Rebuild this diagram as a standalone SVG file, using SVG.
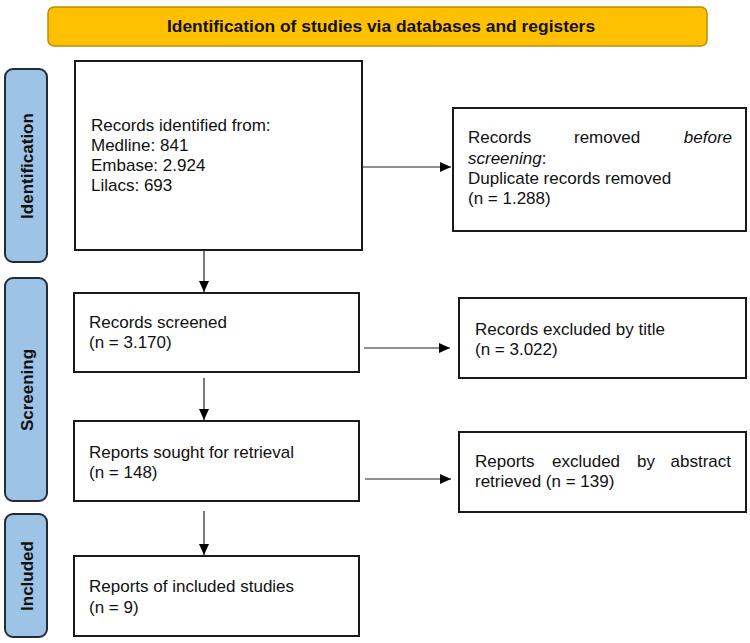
<svg xmlns="http://www.w3.org/2000/svg" width="750" height="643" viewBox="0 0 750 643">
<defs>
<marker id="ah" viewBox="0 0 11 10" refX="11" refY="5" markerWidth="11" markerHeight="10" markerUnits="userSpaceOnUse" orient="auto">
<path d="M0,0 L11,5 L0,10 Z" fill="#000"/>
</marker>
<style>
.box{fill:#fff;stroke:#1a1a1a;stroke-width:2}
.phase{fill:#9dc3e6;stroke:#222b36;stroke-width:2}
.t{font-family:"Liberation Sans",Arial,sans-serif;font-size:17px;fill:#111}
.pt{font-family:"Liberation Sans",Arial,sans-serif;font-size:17px;font-weight:bold;fill:#111;text-anchor:middle}
.conn line{stroke:#222;stroke-width:1.2;marker-end:url(#ah)}
</style>
</defs>
<rect width="750" height="643" fill="#fff"/>

<g id="title">
<rect x="48" y="7" width="659" height="39" rx="6" fill="#ffc000" stroke="#b8900a" stroke-width="1.5"/>
<text x="381" y="32" class="pt" style="font-size:17.4px">Identification of studies via databases and registers</text>
</g>

<g id="phase-identification">
<rect x="5" y="69" width="42" height="193" rx="8" class="phase"/>
<text class="pt" transform="translate(33,166) rotate(-90)">Identification</text>
</g>
<g id="phase-screening">
<rect x="5" y="278" width="42" height="223" rx="8" class="phase"/>
<text class="pt" transform="translate(33,390) rotate(-90)">Screening</text>
</g>
<g id="phase-included">
<rect x="5" y="514" width="42" height="123" rx="8" class="phase"/>
<text class="pt" transform="translate(33,576) rotate(-90)">Included</text>
</g>

<g id="records-identified">
<rect x="75" y="61" width="287" height="189" class="box"/>
<text class="t" x="91" y="131">Records identified from:</text>
<text class="t" x="91" y="151">Medline: 841</text>
<text class="t" x="91" y="171">Embase: 2.924</text>
<text class="t" x="91" y="191">Lilacs: 693</text>
</g>

<g id="records-removed">
<rect x="453" y="108" width="293" height="123" class="box"/>
<text class="t" x="468" y="143">Records</text>
<text class="t" x="574" y="143">removed</text>
<text class="t" x="732" y="143" text-anchor="end" font-style="italic">before</text>
<text class="t" x="468" y="164"><tspan font-style="italic">screening</tspan>:</text>
<text class="t" x="468" y="184">Duplicate records removed</text>
<text class="t" x="468" y="204">(n = 1.288)</text>
</g>

<g id="records-screened">
<rect x="74" y="293" width="285" height="79" class="box"/>
<text class="t" x="89" y="328">Records screened</text>
<text class="t" x="89" y="348">(n = 3.170)</text>
</g>

<g id="records-excluded">
<rect x="459" y="298" width="287" height="80" class="box"/>
<text class="t" x="475" y="335">Records excluded by title</text>
<text class="t" x="475" y="355">(n = 3.022)</text>
</g>

<g id="reports-sought">
<rect x="74" y="421" width="285" height="80" class="box"/>
<text class="t" x="89" y="458">Reports sought for retrieval</text>
<text class="t" x="89" y="478">(n = 148)</text>
</g>

<g id="reports-excluded">
<rect x="459" y="432" width="287" height="80" class="box"/>
<text class="t" x="475" y="467">Reports</text>
<text class="t" x="552" y="467">excluded</text>
<text class="t" x="637" y="467">by</text>
<text class="t" x="731" y="467" text-anchor="end">abstract</text>
<text class="t" x="475" y="487">retrieved (n = 139)</text>
</g>

<g id="reports-included">
<rect x="74" y="556" width="285" height="80" class="box"/>
<text class="t" x="89" y="592">Reports of included studies</text>
<text class="t" x="89" y="613">(n = 9)</text>
</g>

<g id="connectors" class="conn">
<line x1="204" y1="251" x2="204" y2="292"/>
<line x1="363" y1="167" x2="451" y2="167"/>
<line x1="204" y1="378" x2="204" y2="420"/>
<line x1="364" y1="348" x2="450" y2="348"/>
<line x1="204" y1="511" x2="204" y2="555"/>
<line x1="365" y1="479" x2="451" y2="479"/>
</g>
</svg>
